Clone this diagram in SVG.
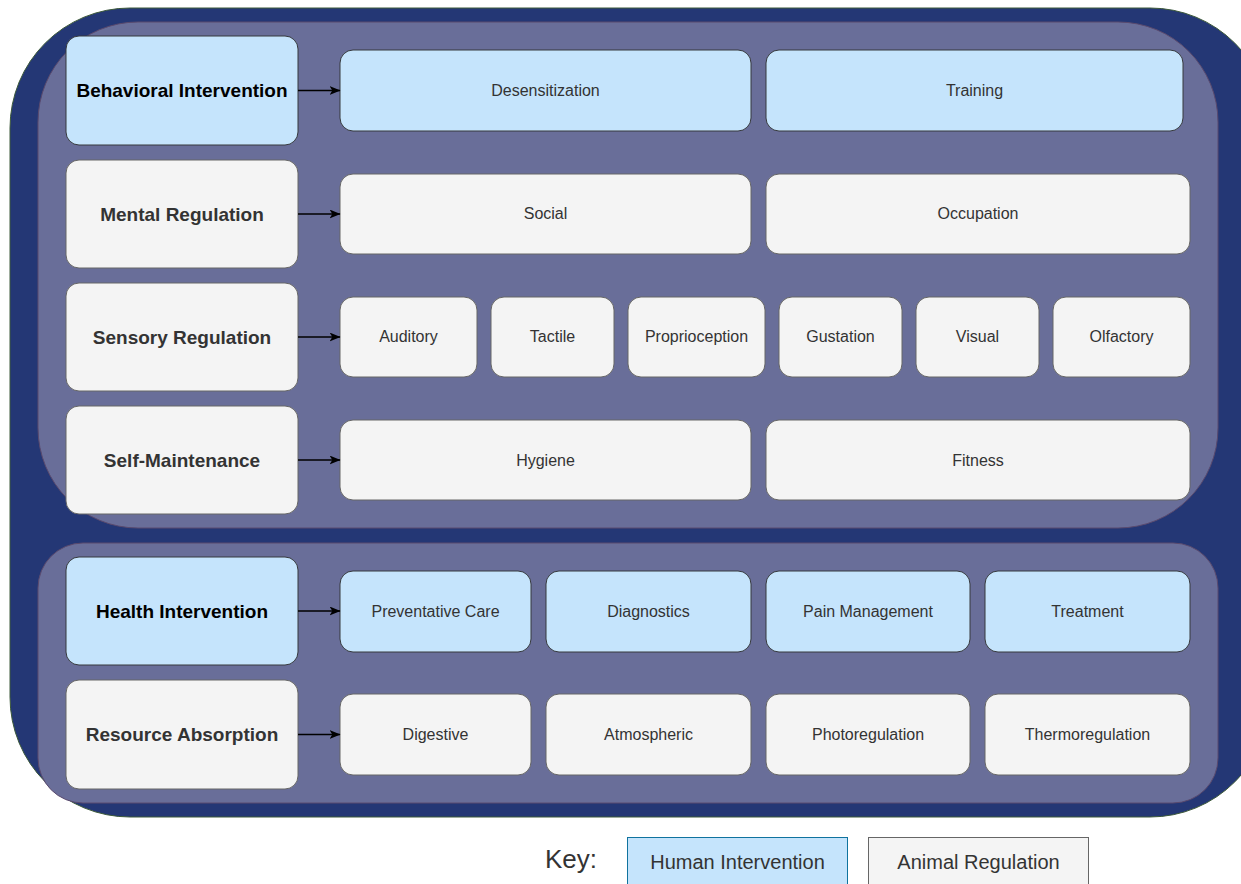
<svg xmlns="http://www.w3.org/2000/svg" width="1241" height="884" viewBox="0 0 1241 884">
<style>
.bg{fill:#ffffff}
.outer{fill:#243775;stroke:#3d5a3a;stroke-width:1}
.panel{fill:#696e99;stroke:#5a4a6e;stroke-width:1}
.blue{fill:#c5e4fc;stroke:#36393d;stroke-width:1}
.gray{fill:#f4f4f4;stroke:#666666;stroke-width:1}
.hl{font-family:"Liberation Sans",Arial,sans-serif;font-weight:bold;font-size:19px;text-anchor:middle;dominant-baseline:central}
.hb{fill:#000000}
.hg{fill:#333333}
.cl{font-family:"Liberation Sans",Arial,sans-serif;font-size:16px;fill:#333333;text-anchor:middle;dominant-baseline:central}
.conn line{stroke:#000000;stroke-width:1.5;marker-end:url(#arr)}
.key{font-family:"Liberation Sans",Arial,sans-serif;fill:#333333;dominant-baseline:central}
</style>
<defs>
<marker id="arr" viewBox="0 0 10 10" refX="9.5" refY="5" markerWidth="11" markerHeight="9" markerUnits="userSpaceOnUse" orient="auto" preserveAspectRatio="none">
<path d="M0,0 L10,5 L0,10 L2.5,5 Z" fill="#000000"/>
</marker>
</defs>
<rect class="bg" x="0" y="0" width="1241" height="884"/>
<g id="container">
<rect class="outer" x="10" y="8" width="1260" height="809" rx="120" ry="120"/>
<rect class="panel" x="38" y="22" width="1180" height="506" rx="100" ry="100"/>
<rect class="panel" x="38" y="543" width="1180" height="260" rx="45" ry="45"/>
</g>
<g id="n-behavioral"><rect class="blue" x="66" y="36" width="232" height="109" rx="13"/><text class="hl hb" x="182" y="90.5">Behavioral Intervention</text></g>
<g id="n-desensitization"><rect class="blue" x="340" y="50" width="411" height="81" rx="13"/><text class="cl" x="545.5" y="90.5">Desensitization</text></g>
<g id="n-training"><rect class="blue" x="766" y="50" width="417" height="81" rx="13"/><text class="cl" x="974.5" y="90.5">Training</text></g>
<g id="n-mental"><rect class="gray" x="66" y="160" width="232" height="108" rx="13"/><text class="hl hg" x="182" y="214">Mental Regulation</text></g>
<g id="n-social"><rect class="gray" x="340" y="174" width="411" height="80" rx="13"/><text class="cl" x="545.5" y="213.5">Social</text></g>
<g id="n-occupation"><rect class="gray" x="766" y="174" width="424" height="80" rx="13"/><text class="cl" x="978" y="213.5">Occupation</text></g>
<g id="n-sensory"><rect class="gray" x="66" y="283" width="232" height="108" rx="13"/><text class="hl hg" x="182" y="337">Sensory Regulation</text></g>
<g id="n-auditory"><rect class="gray" x="340" y="297" width="137" height="80" rx="13"/><text class="cl" x="408.5" y="336.5">Auditory</text></g>
<g id="n-tactile"><rect class="gray" x="491" y="297" width="123" height="80" rx="13"/><text class="cl" x="552.5" y="336.5">Tactile</text></g>
<g id="n-proprioception"><rect class="gray" x="628" y="297" width="137" height="80" rx="13"/><text class="cl" x="696.5" y="336.5">Proprioception</text></g>
<g id="n-gustation"><rect class="gray" x="779" y="297" width="123" height="80" rx="13"/><text class="cl" x="840.5" y="336.5">Gustation</text></g>
<g id="n-visual"><rect class="gray" x="916" y="297" width="123" height="80" rx="13"/><text class="cl" x="977.5" y="336.5">Visual</text></g>
<g id="n-olfactory"><rect class="gray" x="1053" y="297" width="137" height="80" rx="13"/><text class="cl" x="1121.5" y="336.5">Olfactory</text></g>
<g id="n-selfmaint"><rect class="gray" x="66" y="406" width="232" height="108" rx="13"/><text class="hl hg" x="182" y="460">Self-Maintenance</text></g>
<g id="n-hygiene"><rect class="gray" x="340" y="420" width="411" height="80" rx="13"/><text class="cl" x="545.5" y="460">Hygiene</text></g>
<g id="n-fitness"><rect class="gray" x="766" y="420" width="424" height="80" rx="13"/><text class="cl" x="978" y="460">Fitness</text></g>
<g id="n-health"><rect class="blue" x="66" y="557" width="232" height="108" rx="13"/><text class="hl hb" x="182" y="611">Health Intervention</text></g>
<g id="n-preventative"><rect class="blue" x="340" y="571" width="191" height="81" rx="13"/><text class="cl" x="435.5" y="611">Preventative Care</text></g>
<g id="n-diagnostics"><rect class="blue" x="546" y="571" width="205" height="81" rx="13"/><text class="cl" x="648.5" y="611">Diagnostics</text></g>
<g id="n-pain"><rect class="blue" x="766" y="571" width="204" height="81" rx="13"/><text class="cl" x="868" y="611">Pain Management</text></g>
<g id="n-treatment"><rect class="blue" x="985" y="571" width="205" height="81" rx="13"/><text class="cl" x="1087.5" y="611">Treatment</text></g>
<g id="n-resource"><rect class="gray" x="66" y="680" width="232" height="109" rx="13"/><text class="hl hg" x="182" y="734.5">Resource Absorption</text></g>
<g id="n-digestive"><rect class="gray" x="340" y="694" width="191" height="81" rx="13"/><text class="cl" x="435.5" y="734">Digestive</text></g>
<g id="n-atmospheric"><rect class="gray" x="546" y="694" width="205" height="81" rx="13"/><text class="cl" x="648.5" y="734">Atmospheric</text></g>
<g id="n-photo"><rect class="gray" x="766" y="694" width="204" height="81" rx="13"/><text class="cl" x="868" y="734">Photoregulation</text></g>
<g id="n-thermo"><rect class="gray" x="985" y="694" width="205" height="81" rx="13"/><text class="cl" x="1087.5" y="734">Thermoregulation</text></g>
<g id="connectors" class="conn">
<line x1="298" y1="90.5" x2="340" y2="90.5"/>
<line x1="298" y1="214" x2="340" y2="214"/>
<line x1="298" y1="337" x2="340" y2="337"/>
<line x1="298" y1="460" x2="340" y2="460"/>
<line x1="298" y1="611" x2="340" y2="611"/>
<line x1="298" y1="734.5" x2="340" y2="734.5"/>
</g>
<g id="key">
<text class="key" x="545" y="859" font-size="26">Key:</text>
<g id="key-human"><rect x="627.5" y="837.5" width="220" height="52" fill="#c5e4fc" stroke="#10739e" stroke-width="1"/><text class="key" x="737.5" y="862" font-size="20" text-anchor="middle">Human Intervention</text></g>
<g id="key-animal"><rect x="868.5" y="837.5" width="220" height="52" fill="#f4f4f4" stroke="#666666" stroke-width="1"/><text class="key" x="978.5" y="862" font-size="20" text-anchor="middle">Animal Regulation</text></g>
</g>
</svg>
